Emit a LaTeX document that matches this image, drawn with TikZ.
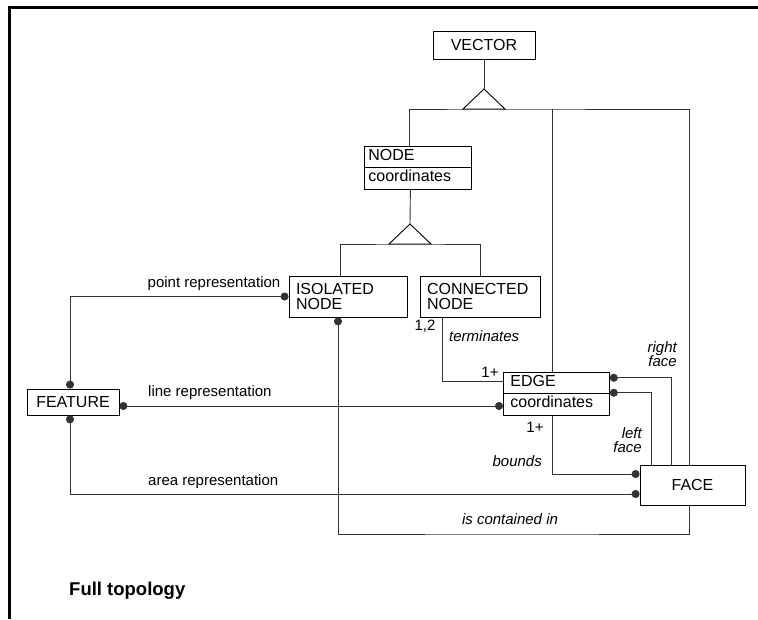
\documentclass[tikz,border=0pt]{standalone}
\usepackage{fontspec}
\setmainfont{Liberation Sans}
\usetikzlibrary{
    arrows.meta,
    calc,
    shapes.multipart
}
\newcommand{\boxstrut}{\rule[-4.5pt]{0pt}{16pt}}

\begin{document}
\begin{tikzpicture}[
  x=1pt, y=-1pt,
  box/.style={
    draw, line width=0.8pt, inner xsep=7pt, inner ysep=0pt,
    font=\fontsize{16}{15.5}\selectfont, align=center},
  split/.style={
    box, rectangle split, rectangle split parts=2,
    inner ysep=2.25pt, align=left, anchor=north west},
  lbl/.style={font=\fontsize{15}{14}\selectfont, inner sep=0pt},
  ilbl/.style={font=\fontsize{15}{14}\selectfont\itshape, inner sep=0pt},
  link/.style={draw=black!80, line width=0.9pt},
  inh/.style={draw=black, line width=0.9pt, fill=white},
  dotdot/.style={arrows={Circle[length=8pt]-Circle[length=8pt]}},
  dotfirst/.style={arrows={Circle[length=8pt]-}},
  dotlast/.style={arrows={-Circle[length=8pt]}}
]
\useasboundingbox (0,0) rectangle (758,619);

%% frame
\draw[line width=3pt] (9,619) |- (758,7);

\node[box, minimum width=102pt, minimum height=28pt] (vector) at (484,45) {VECTOR};
\node[split, inner xsep=4pt, text width=99pt] (nodebox) at (364,146)
  {\boxstrut NODE\nodepart{two}\boxstrut coordinates};
\node[box, align=left, text width=104pt, minimum height=41pt] (isolated) at (348,296.5)
  {ISOLATED\\NODE};
\node[box, align=left, text width=106pt, minimum height=41pt] (connected) at (480,296.5)
  {CONNECTED\\NODE};
\node[box, minimum width=92pt, minimum height=26pt] (feature) at (73,402) {FEATURE};
\node[split, text width=92pt] (edge) at (503,372)
  {\boxstrut EDGE\nodepart{two}\boxstrut coordinates};
\node[box, minimum width=105pt, minimum height=40pt] (face) at (692.5,485) {FACE};

%% generalisation of VECTOR
\coordinate (vtri)  at (484,89);
\coordinate (vbase) at (484,109);
\coordinate (etop)  at ([xshift=-4pt]edge.north);
\draw[link] (vector) -- (vtri);
\draw[link] ([xshift=-8.5pt]nodebox.north) |- (vbase) -| ([xshift=-3.5pt]face.north);
\draw[link] (etop |- vbase) -- (etop);
\draw[inh] (vtri) -- ++(-21,20) -- ++(42,0) -- cycle;

%% generalisation of NODE
\coordinate (ntri)  at (410,224);
\coordinate (nbase) at (410,244);
\draw[link] ([xshift=-7.5pt]nodebox.south) -- (ntri);
\draw[link] ([xshift=-8pt]isolated.north) |- (nbase) -| (connected.north);
\draw[inh] (ntri) -- ++(-21,20) -- ++(42,0) -- cycle;

%% representations of FEATURE
\draw[link, dotdot] (isolated.west) -| ([xshift=-3pt]feature.north);
\draw[link, dotdot] ([yshift=-4pt]feature.east) -- ([yshift=-4pt]feature.east -| edge.west);
\draw[link, dotdot] ([xshift=-3pt]feature.south) |- ([yshift=-9pt]face.west);
\node[lbl] (ptlbl)   at (214,284) {point representation};
\node[lbl, anchor=west] (lnlbl) at (148,393) {line representation};
\node[lbl, anchor=west] (arlbl) at (148,482) {area representation};

%% topology
\coordinate (contbot) at (510,534);
\draw[link] ([xshift=-38pt]connected.south) |- ([yshift=12pt]edge.west);
\draw[link, dotlast] ([xshift=-4pt]edge.south) |- ([yshift=11pt]face.west);
\draw[link, dotfirst] ([yshift=16pt]edge.east) -| ([xshift=-21.5pt]face.north);
\draw[link, dotfirst] ([yshift=1pt]edge.east) -| ([xshift=-41.5pt]face.north);
\draw[link, dotfirst] ([xshift=-10pt]isolated.south) |- (contbot) -| ([xshift=-3.5pt]face.south);

\node[lbl]  (card12)  at (425,326) {1,2};
\node[ilbl, anchor=west] (termlbl) at (449,336) {terminates};
\node[lbl]  (card1a)  at (490,372) {1+};
\node[lbl]  (card1b)  at (535,427) {1+};
\node[ilbl, anchor=east] (bndlbl) at (542,461) {bounds};
\node[ilbl, align=right, anchor=east] (rflbl) at (677,354) {right\\face};
\node[ilbl, align=right, anchor=east] (lflbl) at (642,440) {left\\face};
\node[ilbl] (contlbl) at (510,519) {is contained in};

\node[font=\fontsize{18.5}{20}\selectfont\bfseries, anchor=west, inner sep=0pt] (title) at (69,591) {Full topology};

\end{tikzpicture}
\end{document}
